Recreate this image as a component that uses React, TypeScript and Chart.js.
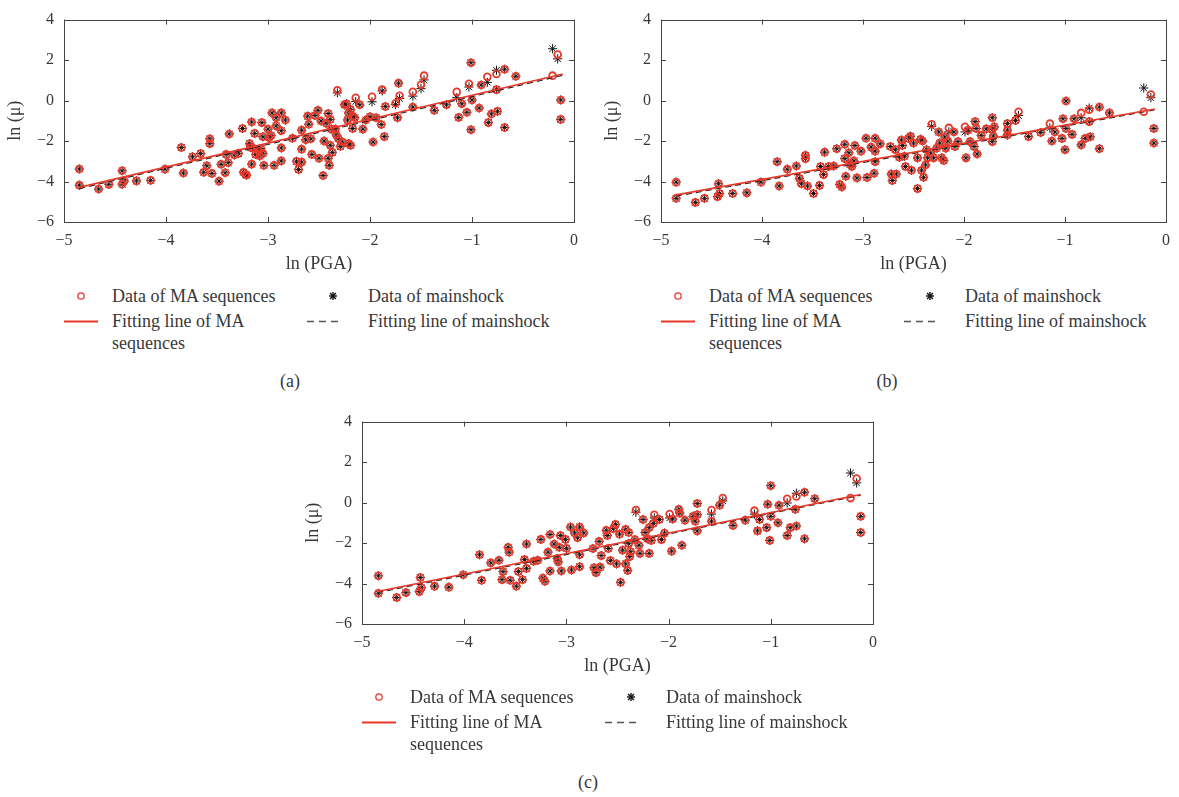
import React, { useEffect, useRef } from "react";
import { Chart, registerables } from "chart.js";
Chart.register(...registerables);

// ---------- tick labels / texts ----------
const xTicks = [-5, -4, -3, -2, -1, 0];
const yTicks = [-6, -4, -2, 0, 2, 4];
const xTitle = "ln (PGA)";
const yTitle = "ln (\u03bc)";
const panelTags = ["(a)", "(b)", "(c)"];

// ---------- panel (a) ----------
const aX = [-4.85,-4.85,-4.66,-4.56,-4.43,-4.43,-4.41,-4.29,-4.15,-4.01,
-3.85,-3.83,-3.74,-3.66,-3.63,-3.60,-3.57,-3.57,-3.55,-3.48,
-3.46,-3.42,-3.41,-3.39,-3.38,-3.33,-3.29,-3.25,-3.24,-3.22,
-3.21,-3.18,-3.17,-3.16,-3.16,-3.14,-3.13,-3.12,-3.10,-3.08,
-3.07,-3.06,-3.05,-3.05,-3.04,-3.00,-2.99,-2.97,-2.96,-2.94,
-2.92,-2.92,-2.87,-2.87,-2.87,-2.87,-2.83,
-2.76,-2.67,-2.67,-2.72,-2.67,-2.70,-2.63,-2.61,-2.60,-2.58,
-2.57,-2.54,-2.51,-2.50,-2.48,-2.46,-2.45,-2.43,-2.41,-2.41,
-2.40,-2.39,-2.39,-2.38,-2.37,-2.34,-2.33,-2.31,-2.32,-2.29,
-2.27,-2.25,-2.23,-2.21,-2.19,-2.21,-2.19,-2.17,-2.15,-2.22,
-2.14,-2.10,-2.17,-2.07,-2.04,-2.00,-1.98,-1.97,-1.94,-1.89,
-1.88,-1.86,-1.85,-1.75,-1.72,-1.73,-1.71,-1.58,-1.58,-1.50,
-1.47,-1.37,-1.25,-1.15,-1.13,-1.10,-1.05,-1.03,-1.01,-1.01,
-1.00,-0.93,-0.91,-0.85,-0.84,-0.81,-0.76,-0.76,-0.75,-0.68,
-0.68,-0.57,-0.21,-0.16,-0.13,-0.13];
const aMA = [-3.38,-4.18,-4.37,-4.14,-3.47,-4.13,-3.97,-3.97,-3.94,-3.39,
-2.32,-3.58,-2.78,-2.62,-3.54,-3.22,-1.89,-2.13,-3.60,-3.98,
-3.15,-3.57,-2.66,-3.07,-1.65,-2.69,-2.61,-1.38,-3.54,-3.65,
-3.68,-2.13,-2.32,-1.06,-3.14,-2.37,-1.62,-2.66,-2.45,-2.74,
-2.37,-1.09,-1.79,-2.61,-3.20,-1.41,-1.84,-1.73,-0.61,-3.20,
-1.25,-0.85,-2.34,-2.98,-0.61,-1.49,-0.96,
-1.86,-1.46,-2.40,-3.00,-3.04,-3.41,-1.94,-0.77,-1.17,-1.89,
-2.66,-0.74,-0.48,-2.85,-1.01,-3.70,-2.00,-1.12,-0.64,-2.85,
-3.20,-0.93,-2.21,-1.41,-2.56,-1.41,-1.70,-1.89,0.51,-2.26,
-2.05,-0.21,-0.16,-2.13,-2.21,-0.61,-0.45,-0.77,-0.85,-0.96,
0.14,-0.21,-1.38,-1.41,-0.96,-0.80,0.19,-2.05,-0.85,-1.18,
0.54,-1.78,-0.29,-0.13,0.86,-0.85,0.24,0.43,-0.32,0.78,
1.23,-0.48,-0.21,0.43,-0.83,-0.16,-0.58,0.83,1.87,-1.44,
0.03,-0.37,0.77,1.18,-1.09,-0.66,1.31,0.54,-0.53,1.55,
-1.33,1.20,1.23,2.27,0.03,-0.93];
const aMS = [-3.38,-4.18,-4.37,-4.14,-3.47,-4.13,-3.97,-3.97,-3.94,-3.39,
-2.32,-3.58,-2.78,-2.62,-3.54,-3.22,-1.89,-2.13,-3.60,-3.98,
-3.15,-3.57,-2.66,-3.07,-1.65,-2.69,-2.61,-1.38,-3.54,-3.65,
-3.68,-2.13,-2.32,-1.06,-3.14,-2.37,-1.62,-2.66,-2.45,-2.74,
-2.37,-1.09,-1.79,-2.61,-3.20,-1.41,-1.84,-1.73,-0.61,-3.20,
-1.25,-0.85,-2.34,-2.98,-0.61,-1.49,-0.96,
-1.86,-1.46,-2.40,-3.00,-3.04,-3.41,-1.94,-0.77,-1.17,-1.89,
-2.66,-0.74,-0.48,-2.85,-1.01,-3.70,-2.00,-1.12,-0.64,-2.85,
-3.20,-0.93,-2.21,-1.41,-2.56,-1.41,-1.70,-1.89,0.38,-2.26,
-2.05,-0.21,-0.16,-2.13,-2.21,-0.61,-0.45,-0.77,-0.85,-0.96,
-0.05,-0.21,-1.38,-1.41,-0.96,-0.80,-0.06,-2.05,-0.85,-1.18,
0.48,-1.78,-0.29,-0.20,0.86,-0.85,0.10,0.22,-0.32,0.59,
1.02,-0.48,-0.21,0.14,-0.83,-0.16,-0.58,0.67,1.87,-1.44,
0.03,-0.37,0.77,0.90,-1.09,-0.66,1.50,0.54,-0.53,1.55,
-1.33,1.20,2.56,2.06,0.03,-0.93];
const aFitX = [-4.85, -0.11];
const aFitMA = [-4.29, 1.31];
const aFitMS = [-4.35, 1.25];

// ---------- panel (b) ----------
const bX = [-4.85,-4.85,-4.66,-4.57,-4.43,-4.44,-4.42,-4.29,-4.15,-4.01,
-3.85,-3.83,-3.75,-3.66,-3.63,-3.61,-3.57,-3.57,-3.55,-3.49,
-3.43,-3.42,-3.39,-3.38,-3.34,-3.29,-3.26,-3.23,-3.21,-3.18,
-3.18,-3.17,-3.14,-3.13,-3.11,-3.09,-3.08,-3.06,-3.02,-2.97,
-2.96,-2.92,-2.89,-2.88,-2.88,-2.88,-2.83,
-2.73,-2.72,-2.71,-2.67,-2.68,-2.64,-2.62,-2.61,-2.59,-2.58,
-2.55,-2.53,-2.52,-2.50,-2.46,-2.46,-2.43,-2.42,-2.41,-2.40,
-2.38,-2.37,-2.36,-2.33,-2.32,-2.30,-2.27,-2.25,-2.24,-2.22,
-2.20,-2.19,-2.18,-2.16,-2.15,-2.10,-2.09,-2.06,-1.99,-1.98,
-1.96,-1.94,-1.90,-1.89,-1.88,-1.87,-1.83,-1.78,-1.72,-1.72,
-1.72,-1.71,-1.70,-1.57,-1.57,-1.57,-1.49,-1.46,-1.36,-1.24,
-1.15,-1.13,-1.10,-1.03,-1.02,-1.00,-0.99,-0.99,-0.93,-0.91,
-0.84,-0.84,-0.80,-0.76,-0.76,-0.75,-0.66,-0.66,-0.56,-0.22,
-0.15,-0.12,-0.12];
const bMA = [-4.03,-4.83,-5.03,-4.83,-4.11,-4.75,-4.59,-4.59,-4.56,-4.03,
-3.02,-4.22,-3.39,-3.23,-3.84,-4.11,-2.70,-2.87,-4.22,-4.59,
-4.19,-3.26,-3.66,-2.55,-3.26,-3.23,-2.38,-4.14,-4.27,-2.16,
-2.87,-3.74,-2.58,-3.14,-3.26,-2.98,-2.22,-3.82,-2.50,-1.86,
-3.80,-2.30,-3.59,-1.86,-2.50,-3.02,-2.14,
-2.27,-3.63,-3.95,-3.63,-2.43,-2.80,-1.95,-2.22,-2.75,-3.26,
-1.87,-1.76,-3.44,-2.10,-2.83,-4.35,-1.91,-3.44,-2.00,-3.79,
-3.18,-2.43,-2.83,-2.59,-1.17,-2.83,-2.35,-1.55,-2.10,-2.83,
-2.96,-1.80,-2.35,-2.00,-1.35,-1.55,-2.27,-2.03,-1.30,-2.83,
-1.46,-2.03,-2.27,-1.04,-1.38,-2.64,-1.72,-1.40,-0.85,-1.43,
-2.03,-1.75,-1.30,-1.14,-1.46,-1.70,-0.98,-0.55,-1.78,-1.58,
-1.14,-2.00,-1.55,-1.87,-0.90,-2.43,-0.02,-1.38,-1.67,-0.90,
-0.61,-2.19,-1.87,-1.04,-0.45,-1.79,-0.32,-2.38,-0.61,-0.55,
0.30,-1.38,-2.10];
const bMS = [-4.03,-4.83,-5.03,-4.83,-4.11,-4.75,-4.59,-4.59,-4.56,-4.03,
-3.02,-4.22,-3.39,-3.23,-3.84,-4.11,-2.70,-2.87,-4.22,-4.59,
-4.19,-3.26,-3.66,-2.55,-3.26,-3.23,-2.38,-4.14,-4.27,-2.16,
-2.87,-3.74,-2.58,-3.14,-3.26,-2.98,-2.22,-3.82,-2.50,-1.86,
-3.80,-2.30,-3.59,-1.86,-2.50,-3.02,-2.14,
-2.27,-3.63,-3.95,-3.63,-2.43,-2.80,-1.95,-2.22,-2.75,-3.26,
-1.87,-1.76,-3.44,-2.10,-2.83,-4.35,-1.91,-3.44,-2.00,-3.79,
-3.18,-2.43,-2.83,-2.59,-1.28,-2.83,-2.35,-1.55,-2.10,-2.83,
-2.96,-1.80,-2.35,-2.00,-1.55,-1.55,-2.27,-2.03,-1.55,-2.83,
-1.46,-2.03,-2.27,-1.04,-1.38,-2.64,-1.72,-1.40,-0.85,-1.43,
-2.03,-1.75,-1.30,-1.14,-1.46,-1.70,-0.98,-0.74,-1.78,-1.58,
-1.35,-2.00,-1.55,-1.87,-0.90,-2.43,-0.02,-1.38,-1.67,-0.90,
-0.85,-2.19,-1.87,-1.04,-0.37,-1.79,-0.32,-2.38,-0.61,0.62,
0.14,-1.38,-2.10];
const bFitX = [-4.85, -0.11];
const bFitMA = [-4.66, -0.42];
const bFitMS = [-4.72, -0.46];

// ---------- panel (c) ----------
const cX = [-4.84,-4.84,-4.66,-4.57,-4.43,-4.44,-4.42,-4.29,-4.15,-4.01,
-3.85,-3.83,-3.74,-3.66,-3.62,-3.63,-3.57,-3.56,-3.55,-3.49,
-3.47,-3.43,-3.41,-3.39,-3.39,-3.32,-3.28,-3.25,-3.23,-3.21,
-3.18,-3.16,-3.16,-3.12,-3.09,-3.08,-3.07,-3.06,-3.05,-3.01,
-3.00,-2.96,-2.95,-2.92,-2.89,-2.87,-2.87,-2.87,-2.83,
-2.74,-2.73,-2.71,-2.67,-2.68,-2.66,-2.61,-2.60,-2.59,-2.57,
-2.54,-2.52,-2.51,-2.48,-2.47,-2.45,-2.42,-2.42,-2.40,-2.39,
-2.39,-2.38,-2.37,-2.33,-2.32,-2.29,-2.28,-2.25,-2.23,-2.21,
-2.19,-2.19,-2.17,-2.15,-2.14,-2.09,-2.07,-2.04,-1.99,-1.97,
-1.96,-1.90,-1.89,-1.87,-1.84,-1.76,-1.74,-1.72,-1.72,-1.72,
-1.58,-1.58,-1.50,-1.47,-1.37,-1.25,-1.16,-1.13,-1.11,-1.04,
-1.03,-1.01,-1.00,-1.00,-0.93,-0.92,-0.84,-0.84,-0.81,-0.76,
-0.75,-0.75,-0.67,-0.67,-0.57,-0.22,-0.16,-0.12,-0.12];
const cMA = [-3.62,-4.48,-4.69,-4.45,-3.70,-4.40,-4.21,-4.13,-4.18,-3.57,
-2.58,-3.84,-2.98,-2.85,-3.41,-3.81,-2.21,-2.45,-3.84,-4.13,
-3.41,-3.81,-2.82,-3.25,-2.05,-2.90,-2.85,-1.82,-3.73,-3.89,
-2.45,-1.58,-3.38,-2.05,-2.77,-2.93,-2.21,-1.63,-3.38,-1.82,
-2.26,-1.21,-3.33,-1.50,-1.74,-1.21,-2.58,-3.17,-1.50,
-2.27,-3.22,-3.46,-3.19,-1.92,-2.62,-1.37,-1.63,-2.27,-2.87,
-1.29,-1.08,-3.03,-1.56,-3.94,-2.35,-1.32,-3.03,-3.35,-1.48,
-2.03,-2.67,-2.43,-1.83,-0.37,-2.11,-2.51,-0.84,-1.48,-1.79,
-1.24,-2.51,-1.87,-1.03,-0.60,-0.84,-1.83,-1.51,-0.57,-2.40,
-0.81,-0.33,-0.52,-2.11,-0.87,-0.68,-0.92,-0.05,-0.60,-1.40,
-0.37,-0.92,-0.13,0.22,-1.13,-0.87,-0.40,-1.40,-0.84,-1.24,
-0.08,-1.87,0.83,-0.68,-1.00,-0.13,0.19,-1.63,-1.24,-0.33,
0.30,-1.16,0.51,-1.79,0.19,0.22,1.19,-0.68,-1.48];
const cMS = [-3.62,-4.48,-4.69,-4.45,-3.70,-4.40,-4.21,-4.13,-4.18,-3.57,
-2.58,-3.84,-2.98,-2.85,-3.41,-3.81,-2.21,-2.45,-3.84,-4.13,
-3.41,-3.81,-2.82,-3.25,-2.05,-2.90,-2.85,-1.82,-3.73,-3.89,
-2.45,-1.58,-3.38,-2.05,-2.77,-2.93,-2.21,-1.63,-3.38,-1.82,
-2.26,-1.21,-3.33,-1.50,-1.74,-1.21,-2.58,-3.17,-1.50,
-2.27,-3.22,-3.46,-3.19,-1.92,-2.62,-1.37,-1.63,-2.27,-2.87,
-1.29,-1.08,-3.03,-1.56,-3.94,-2.35,-1.32,-3.03,-3.35,-1.48,
-2.03,-2.67,-2.43,-1.83,-0.48,-2.11,-2.51,-0.84,-1.48,-1.79,
-1.24,-2.51,-1.87,-1.03,-0.76,-0.84,-1.83,-1.51,-0.76,-2.40,
-0.81,-0.33,-0.52,-2.11,-0.87,-0.68,-0.92,-0.05,-0.60,-1.40,
-0.57,-0.92,-0.13,0.08,-1.13,-0.87,-0.57,-1.40,-0.84,-1.24,
-0.08,-1.87,0.83,-0.68,-1.00,-0.13,-0.02,-1.63,-1.24,-0.33,
0.46,-1.16,0.51,-1.79,0.19,1.46,0.97,-0.68,-1.48];
const cFitX = [-4.85, -0.12];
const cFitMA = [-4.39, 0.40];
const cFitMS = [-4.45, 0.36];

const legendLabels = ["Data of MA sequences", "Data of mainshock", "Fitting line of MA", "sequences", "Fitting line of mainshock"];

// ---------- styles ----------
const RED = "#e8392b";
const FONT = "'Liberation Serif', 'Times New Roman', serif";
const TEXT = "#383838";
const AXIS = "#444";

const minus = (v: number | string) => String(v).replace("-", "\u2212");

const framePlugin = {
  id: "frame",
  afterDraw(chart: any) {
    const { ctx, chartArea } = chart;
    const { left, right, top, bottom } = chartArea;
    const xs = chart.scales.x;
    const ys = chart.scales.y;
    const L = 5;
    ctx.save();
    ctx.strokeStyle = AXIS;
    ctx.lineWidth = 1;
    ctx.strokeRect(Math.round(left) + 0.5, Math.round(top) + 0.5, Math.round(right - left), Math.round(bottom - top));
    ctx.beginPath();
    xTicks.forEach((v) => {
      const px = Math.round(xs.getPixelForValue(v)) + 0.5;
      ctx.moveTo(px, bottom); ctx.lineTo(px, bottom - L);
      ctx.moveTo(px, top); ctx.lineTo(px, top + L);
    });
    yTicks.forEach((v) => {
      const py = Math.round(ys.getPixelForValue(v)) + 0.5;
      ctx.moveTo(left, py); ctx.lineTo(left + L, py);
      ctx.moveTo(right, py); ctx.lineTo(right - L, py);
    });
    ctx.stroke();
    ctx.restore();
  },
};

type PanelProps = {
  left: number; top: number; width: number; padTop: number; padRight: number;
  xs: number[]; ma: number[]; ms: number[]; fitX: number[]; fitMA: number[]; fitMS: number[];
};

const H = 280;

function Panel(p: PanelProps) {
  const ref = useRef<HTMLCanvasElement>(null);
  useEffect(() => {
    const pts = (xs: number[], ys: number[]) => xs.map((x, i) => ({ x, y: ys[i] }));
    const tickFont = { family: FONT, size: 16 };
    const titleFont = { family: FONT, size: 18 };
    const chart = new Chart(ref.current as HTMLCanvasElement, {
      type: "scatter",
      data: {
        datasets: [
          { data: pts(p.fitX, p.fitMA), showLine: true, borderColor: RED, borderWidth: 1.6, pointRadius: 0, fill: false } as any,
          { data: pts(p.fitX, p.fitMS), showLine: true, borderColor: "#222", borderWidth: 1.2, borderDash: [6, 4], pointRadius: 0, fill: false } as any,
          { data: pts(p.xs, p.ma), pointStyle: "circle", pointRadius: 3.4, borderColor: RED, backgroundColor: "rgba(0,0,0,0)", borderWidth: 1.8 } as any,
          { data: pts(p.xs, p.ms), pointStyle: "star", pointRadius: 4.6, borderColor: "#111", backgroundColor: "#111", borderWidth: 1 } as any,
        ],
      },
      options: {
        animation: false,
        responsive: false,
        maintainAspectRatio: false,
        devicePixelRatio: 1,
        layout: { padding: { left: 0, right: p.padRight, top: p.padTop, bottom: 0 } },
        plugins: { legend: { display: false }, tooltip: { enabled: false } },
        scales: {
          x: {
            type: "linear", min: -5, max: 0,
            afterBuildTicks: (s: any) => { s.ticks = xTicks.map((v) => ({ value: v })); },
            afterFit: (s: any) => { s.height = 58; },
            grid: { display: false, drawTicks: false },
            border: { display: false },
            ticks: { font: tickFont, color: TEXT, padding: 9, callback: (v: any) => minus(v) },
            title: { display: true, text: xTitle, font: titleFont, color: TEXT, padding: { top: 0, bottom: 5 } },
          },
          y: {
            type: "linear", min: -6, max: 4,
            afterBuildTicks: (s: any) => { s.ticks = yTicks.map((v) => ({ value: v })); },
            afterFit: (s: any) => { s.width = 64; },
            grid: { display: false, drawTicks: false },
            border: { display: false },
            ticks: { font: tickFont, color: TEXT, padding: 10, callback: (v: any) => minus(v) },
            title: { display: true, text: yTitle, font: titleFont, color: TEXT, padding: { top: 4, bottom: 0 } },
          },
        },
      } as any,
      plugins: [framePlugin],
    });
    return () => chart.destroy();
  }, []);
  return (
    <canvas
      ref={ref}
      width={p.width}
      height={H}
      style={{ position: "absolute", left: p.left, top: p.top, width: p.width, height: H }}
    />
  );
}

function Legend({ dx, dy, tag }: { dx: number; dy: number; tag: string }) {
  const txt = (left: number, cy: number): React.CSSProperties => ({
    position: "absolute", left: left + dx, top: cy + dy - 11, fontFamily: FONT, fontSize: 18,
    lineHeight: "22px", color: TEXT, whiteSpace: "nowrap",
  });
  const s = 4;
  const d = 2.9;
  return (
    <>
      <svg style={{ position: "absolute", left: dx, top: dy + 280, overflow: "visible" }} width={400} height={70}>
        <circle cx={81} cy={16} r={3.2} stroke={RED} strokeWidth={1.3} fill="none" />
        <g stroke="#111" strokeWidth={1.4}>
          <line x1={333 - s} y1={16} x2={333 + s} y2={16} />
          <line x1={333} y1={16 - s} x2={333} y2={16 + s} />
          <line x1={333 - d} y1={16 - d} x2={333 + d} y2={16 + d} />
          <line x1={333 - d} y1={16 + d} x2={333 + d} y2={16 - d} />
        </g>
        <line x1={64} y1={41.5} x2={98} y2={41.5} stroke={RED} strokeWidth={2} />
        <line x1={307} y1={41.5} x2={341} y2={41.5} stroke="#555" strokeWidth={1.6} strokeDasharray="7,5" />
      </svg>
      <div style={txt(112, 296)}>{legendLabels[0]}</div>
      <div style={txt(368, 296)}>{legendLabels[1]}</div>
      <div style={txt(112, 321)}>{legendLabels[2]}</div>
      <div style={txt(112, 343)}>{legendLabels[3]}</div>
      <div style={txt(368, 321)}>{legendLabels[4]}</div>
      <div style={{ ...txt(290, 381), transform: "translateX(-50%)" }}>{tag}</div>
    </>
  );
}

export default function App() {
  return (
    <div style={{ position: "absolute", left: 0, top: 0, width: 1179, height: 797, background: "#fff" }}>
      <Panel left={0} top={0} width={590} padTop={14} padRight={16}
        xs={aX} ma={aMA} ms={aMS} fitX={aFitX} fitMA={aFitMA} fitMS={aFitMS} />
      <Panel left={597} top={0} width={582} padTop={15} padRight={8}
        xs={bX} ma={bMA} ms={bMS} fitX={bFitX} fitMA={bFitMA} fitMS={bFitMS} />
      <Panel left={298} top={402} width={590} padTop={13} padRight={15}
        xs={cX} ma={cMA} ms={cMS} fitX={cFitX} fitMA={cFitMA} fitMS={cFitMS} />
      <Legend dx={0} dy={0} tag={panelTags[0]} />
      <Legend dx={597} dy={0} tag={panelTags[1]} />
      <Legend dx={298} dy={401} tag={panelTags[2]} />
    </div>
  );
}
